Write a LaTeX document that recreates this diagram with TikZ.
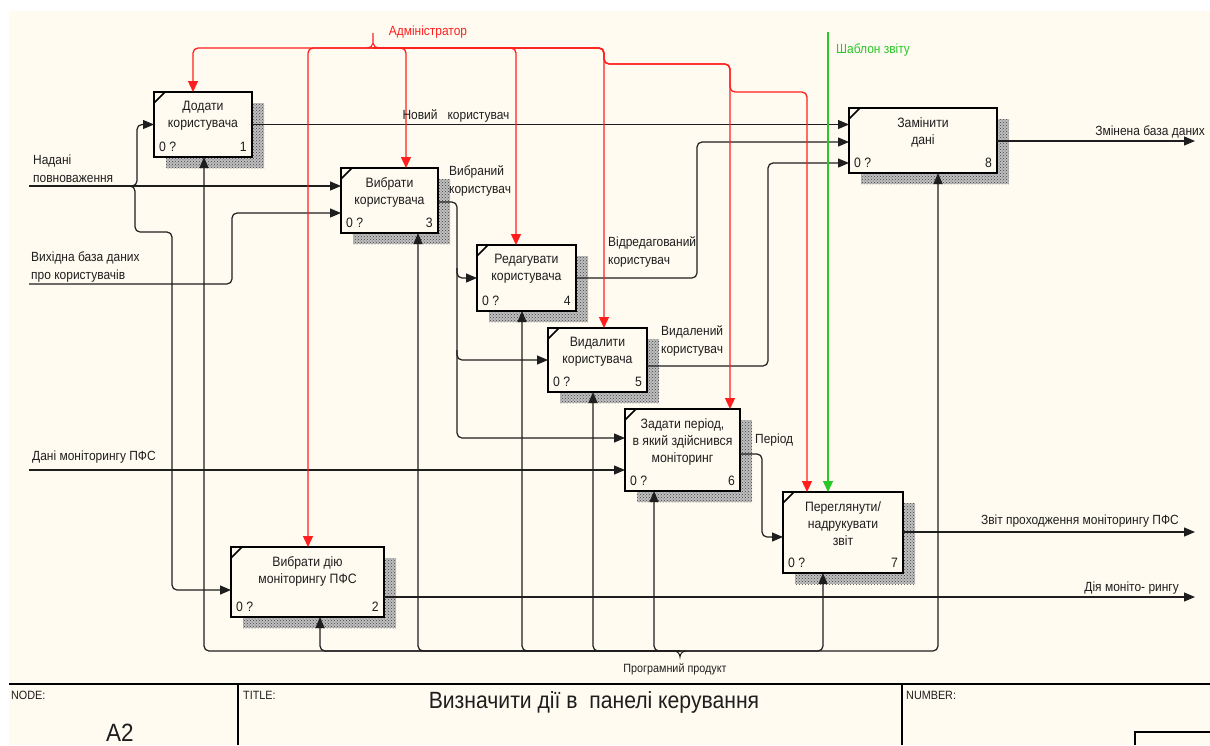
\documentclass[tikz,border=0pt]{standalone}
\usepackage{fontspec}
\setmainfont{Liberation Sans}[FakeStretch=0.9]
\usetikzlibrary{arrows.meta,patterns}

\definecolor{paper}{RGB}{255,251,240}
\definecolor{ink}{RGB}{30,30,30}
\definecolor{ctlred}{RGB}{255,30,30}
\definecolor{tplgreen}{RGB}{40,200,40}

\tikzset{
  actbox/.style={draw=black, fill=paper, line width=2.4pt, inner sep=0pt, outer sep=0pt, rectangle},
  boxtext/.style={inner sep=0pt, align=center, text=ink, font=\fontsize{13.6}{17}\selectfont},
  numtext/.style={inner sep=0pt, text=ink, font=\fontsize{13.6}{15}\selectfont},
  lbl/.style={inner sep=0pt, text=ink, font=\fontsize{13.3}{18}\selectfont},
  lblsm/.style={inner sep=0pt, text=ink, font=\fontsize{12}{14}\selectfont},
  flow/.style={draw=ink, line width=1.2pt, rounded corners=5pt},
  flowarr/.style={flow, -{Triangle[length=11pt,width=9pt]}},
  ctlarr/.style={draw=ctlred, line width=1.3pt, rounded corners=5pt, -{Triangle[length=11pt,width=10pt]}},
  grnarr/.style={draw=tplgreen, line width=1.3pt, -{Triangle[length=11pt,width=10pt]}},
  frameline/.style={draw=black, line width=1.3pt}
}

% activity box: name, x1, y1, x2, y2, text, number
\newcommand\procbox[7]{%
  \fill[black!25] (#2+12,#3+11) rectangle (#4+12,#5+11);
  \fill[pattern=crosshatch dots, pattern color=black!75] (#2+12,#3+11) rectangle (#4+12,#5+11);
  \node[actbox, anchor=north west, minimum width={#4pt-#2pt}, minimum height={#5pt-#3pt}] (#1) at (#2,#3) {};
  \draw[line width=1.6pt] (#2,#3+11) -- (#2+11,#3);
  \node[boxtext, anchor=north] (#1-txt) at ({(#2+#4)/2},#3+9) {#6};
  \node[numtext, anchor=west] (#1-cost) at (#2+5,#5-10) {0 ?};
  \node[numtext, anchor=east] (#1-num) at (#4-5,#5-10) {#7};
}

\begin{document}
\begin{tikzpicture}[x=1pt,y=-1pt]
\useasboundingbox (0,0) rectangle (1210,745);
\fill[white] (0,0) rectangle (1210,745);
\fill[paper] (9,11) rectangle (1210,745);

% activities
\procbox{b1}{154}{92}{252}{157}{Додати\\користувача}{1}
\procbox{b2}{231}{547}{384}{617}{Вибрати дію\\моніторингу ПФС}{2}
\procbox{b3}{341}{168}{438}{233}{Вибрати\\користувача}{3}
\procbox{b4}{477}{245}{576}{311}{Редагувати\\користувача}{4}
\procbox{b5}{548}{328}{647}{392}{Видалити\\користувача}{5}
\procbox{b6}{625}{409}{740}{491}{Задати період,\\в який здійснився\\моніторинг}{6}
\procbox{b7}{783}{492}{903}{573}{Переглянути/\\надрукувати\\звіт}{7}
\procbox{b8}{849}{108}{997}{173}{Замінити\\дані}{8}

% inputs from the left border
\coordinate (inA) at (29,186);
\coordinate (forkA) at (131,186);
\draw[flowarr] (inA) -- (b3.west |- inA);
\draw[flowarr] (forkA) -| ([xshift=-17pt]b1.west) -- (b1.west);
\draw[flowarr] (forkA) -| (135,232) -| (172,590) -- (b2.west |- 0,590);

\coordinate (inB) at (29,284);
\draw[flowarr] (inB) -| (232,213) -- (b3.west |- 0,213);

\coordinate (inC) at (29,470);
\draw[flowarr] (inC) -- (b6.west |- inC);

% outputs between activities
\draw[flowarr] (b1.east) -- (b8.west |- b1.east);

\coordinate (j4) at (457,268);
\coordinate (j5) at (457,350);
\draw[flowarr] (b3.east |- 0,202) -| (457,438) -- (b6.west |- 0,438);
\draw[flowarr] (j4) |- (b4.west);
\draw[flowarr] (j5) |- (b5.west);

\draw[flowarr] (b4.east) -| (697,142) -- (b8.west |- 0,142);
\draw[flowarr] (b5.east |- 0,366) -| (768,163) -- (b8.west |- 0,163);
\draw[flowarr] (b6.east |- 0,454) -| (762,537) -- (b7.west |- 0,537);

% outputs to the right border
\coordinate (out8) at (1195,141);
\coordinate (out7) at (1195,532);
\coordinate (out2) at (1195,597);
\draw[flowarr] (b8.east |- out8) -- (out8);
\draw[flowarr] (b7.east |- out7) -- (out7);
\draw[flowarr] (b2.east |- out2) -- (out2);

% mechanism bundle
\coordinate (mT) at (680,651);
\foreach \b/\x in {b1/204,b2/320,b3/418,b4/522,b5/593,b6/654,b7/823,b8/938}
  \draw[flowarr] (mT) -| (\b.south -| \x,0);
\draw[draw=ink, line width=1pt] (674,651) to[out=0,in=90] (680,657) to[out=90,in=180] (686,651);

% controls
\coordinate (cT) at (373,48);
\draw[ctlarr] (cT) -| (b1.north -| 193,0);
\draw[ctlarr] (cT) -| (b2.north -| 308,0);
\draw[ctlarr] (cT) -| (b3.north -| 406,0);
\draw[ctlarr] (cT) -| (b4.north -| 516,0);
\draw[ctlarr] (cT) -| (b5.north -| 604,0);
\draw[ctlarr] (cT) -| (604,64) -| (b6.north -| 730,0);
\draw[ctlarr] (cT) -| (604,64) -| (730,92) -| (b7.north -| 807,0);
\draw[draw=ctlred, line width=1.1pt] (373,33) -- (373,43)
  (367,48) to[out=0,in=-90] (373,43) to[out=-90,in=180] (379,48);

\coordinate (gT) at (828,32);
\draw[grnarr] (gT) -- (b7.north -| gT);

% arrow labels
\node[lbl, text=ctlred] (admlbl) at (428,32) {Адміністратор};
\node[lbl, text=tplgreen, anchor=west] (tpllbl) at (836,50) {Шаблон звіту};
\node[lbl] (newlbl) at (456,116) {Новий\ \ \ користувач};
\node[lbl, anchor=west, align=left] (inAlbl) at (33,169) {Надані\\повноваження};
\node[lbl, anchor=west, align=left] (inBlbl) at (31,267) {Вихідна база даних\\про користувачів};
\node[lbl, anchor=west] (inClbl) at (32,457) {Дані моніторингу ПФС};
\node[lbl, anchor=west, align=left] (sellbl) at (449,181) {Вибраний\\користувач};
\node[lbl, anchor=west, align=left] (edlbl) at (608,252) {Відредагований\\користувач};
\node[lbl, anchor=west, align=left] (dellbl) at (661,341) {Видалений\\користувач};
\node[lbl, anchor=west] (perlbl) at (755,440) {Період};
\node[lbl, anchor=east] (o8lbl) at (1205,132) {Змінена база даних};
\node[lbl, anchor=east] (o7lbl) at (1179,521) {Звіт проходження моніторингу ПФС};
\node[lbl, anchor=east] (o2lbl) at (1179,588) {Дія моніто- рингу};
\node[lblsm] (mlbl) at (675,669) {Програмний продукт};

% title block
\draw[frameline] (9,684) -- (1210,684);
\draw[frameline] (238,684) -- (238,745);
\draw[frameline] (902,684) -- (902,745);
\draw[frameline] (1135,745) -- (1135,732) -- (1210,732);
\node[lblsm, anchor=west] (nodelbl) at (11,695) {NODE:};
\node[lblsm, anchor=west] (titlelbl) at (243,695) {TITLE:};
\node[lblsm, anchor=west] (numlbl) at (906,695) {NUMBER:};
\node[inner sep=0pt, text=ink, font=\fontsize{25}{27}\selectfont] (nodeid) at (120,733) {A2};
\node[inner sep=0pt, text=ink, font=\fontsize{23.5}{26}\selectfont] (title) at (594,702) {Визначити дії в\ \ панелі керування};
\end{tikzpicture}
\end{document}
